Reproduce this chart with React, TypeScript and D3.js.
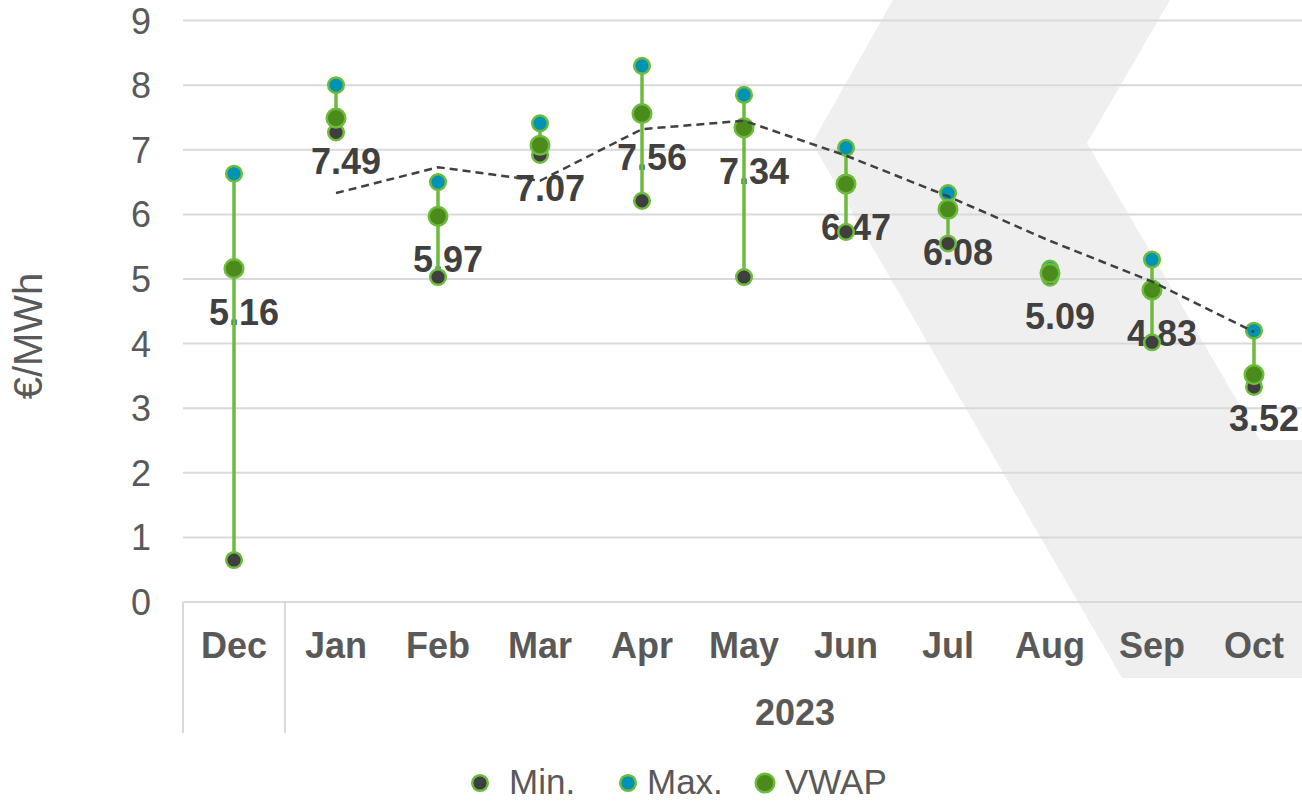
import React from "react";
import * as d3 from "d3";

const categories = ["Dec", "Jan", "Feb", "Mar", "Apr", "May", "Jun", "Jul", "Aug", "Sep", "Oct"];
const yearLabel = "2023";
const minValues = [0.65, 7.27, 5.03, 6.92, 6.21, 5.03, 5.73, 5.55, 5.02, 4.02, 3.33];
const maxValues = [6.63, 8.0, 6.5, 7.41, 8.3, 7.85, 7.03, 6.33, 5.16, 5.3, 4.2];
const vwapValues = [5.16, 7.49, 5.97, 7.07, 7.56, 7.34, 6.47, 6.08, 5.09, 4.83, 3.52];
// 2-period moving average trendline, Jan..Oct
const trendCategories = ["Jan", "Feb", "Mar", "Apr", "May", "Jun", "Jul", "Aug", "Sep", "Oct"];
const trendValues = [6.33, 6.73, 6.52, 7.32, 7.45, 6.91, 6.28, 5.59, 4.96, 4.18];
const yTicks = [0, 1, 2, 3, 4, 5, 6, 7, 8, 9];
const legendItems = ["Min.", "Max.", "VWAP"];

const W = 1302;
const H = 803;
const FONT = "'Liberation Sans', Arial, sans-serif";

const C_LINE = "#6cbb3c";
const C_VWAP = "#4b8b1b";
const C_MAX = "#0093b5";
const C_MIN = "#3f3f3f";
const C_GRID = "#d9d9d9";
const C_TEXT = "#595959";
const C_LABEL = "#404040";

export default function App() {
  const x = d3.scaleBand<string>().domain(categories).range([183, 1305]).padding(0);
  const y = d3.scaleLinear().domain([0, 9]).range([602, 20.6]);
  const cx = (c: string) => (x(c) as number) + x.bandwidth() / 2;

  const trendLine = d3
    .line<number>()
    .x((_, i) => cx(trendCategories[i]))
    .y((d) => y(d));

  const bgPoly = [
    [893, 0],
    [1170, 0],
    [1087, 143],
    [1260, 440],
    [1310, 440],
    [1310, 678],
    [1122, 678],
    [812, 143],
  ];

  const legendPos = [
    { mx: 480, tx: 509, fill: C_MIN, r: 7.8 },
    { mx: 628, tx: 647, fill: C_MAX, r: 7.8 },
    { mx: 765, tx: 785, fill: C_VWAP, r: 9.3 },
  ];

  return (
    <svg
      width={W}
      height={H}
      style={{ position: "absolute", left: 0, top: 0, background: "#fff" }}
      fontFamily={FONT}
    >
      <polygon points={bgPoly.map((p) => p.join(",")).join(" ")} fill="#efefef" />

      {/* gridlines */}
      {yTicks.map((t) => (
        <line key={"g" + t} x1={183} x2={1305} y1={y(t)} y2={y(t)} stroke={C_GRID} strokeWidth={2} />
      ))}
      {/* category separators */}
      <line x1={183} x2={183} y1={602} y2={733} stroke={C_GRID} strokeWidth={2} />
      <line x1={285} x2={285} y1={602} y2={733} stroke={C_GRID} strokeWidth={2} />

      {/* y tick labels */}
      {yTicks.map((t) => (
        <text key={"t" + t} x={151} y={y(t)} dy="0.36em" textAnchor="end" fontSize={36} fill={C_TEXT}>
          {t}
        </text>
      ))}
      <text
        transform={`translate(${28},${336}) rotate(-90)`}
        textAnchor="middle"
        dy="0.36em"
        fontSize={40}
        fill={C_TEXT}
      >
        €/MWh
      </text>

      {/* category labels */}
      {categories.map((c) => (
        <text key={"c" + c} x={cx(c)} y={658} textAnchor="middle" fontSize={36} fontWeight="bold" fill={C_TEXT}>
          {c}
        </text>
      ))}
      <text x={(285 + 1305) / 2} y={725} textAnchor="middle" fontSize={36} fontWeight="bold" fill={C_TEXT}>
        {yearLabel}
      </text>

      {/* data labels */}
      {categories.map((c, i) => (
        <text
          key={"l" + c}
          x={cx(c) + 10}
          y={y(vwapValues[i]) + 56}
          textAnchor="middle"
          fontSize={36}
          fontWeight="bold"
          fill={C_LABEL}
        >
          {vwapValues[i].toFixed(2)}
        </text>
      ))}

      {/* high-low lines */}
      {categories.map((c, i) => (
        <line
          key={"hl" + c}
          x1={cx(c)}
          x2={cx(c)}
          y1={y(minValues[i])}
          y2={y(maxValues[i])}
          stroke={C_LINE}
          strokeWidth={3.5}
        />
      ))}
      {categories.map((c, i) => (
        <circle key={"mn" + c} cx={cx(c)} cy={y(minValues[i])} r={7.8} fill={C_MIN} stroke={C_LINE} strokeWidth={2.5} />
      ))}
      {categories.map((c, i) => (
        <circle key={"mx" + c} cx={cx(c)} cy={y(maxValues[i])} r={7.8} fill={C_MAX} stroke={C_LINE} strokeWidth={2.5} />
      ))}
      {categories.map((c, i) => (
        <circle key={"vw" + c} cx={cx(c)} cy={y(vwapValues[i])} r={9.3} fill={C_VWAP} stroke={C_LINE} strokeWidth={2.5} />
      ))}

      {/* trendline */}
      <path d={trendLine(trendValues) || ""} fill="none" stroke={C_LABEL} strokeWidth={2.5} strokeDasharray="8 5" />

      {/* legend */}
      {legendItems.map((name, i) => (
        <g key={"lg" + name}>
          <circle cx={legendPos[i].mx} cy={783} r={legendPos[i].r} fill={legendPos[i].fill} stroke={C_LINE} strokeWidth={2.5} />
          <text x={legendPos[i].tx} y={794} fontSize={35} fill={C_TEXT}>
            {name}
          </text>
        </g>
      ))}
    </svg>
  );
}
